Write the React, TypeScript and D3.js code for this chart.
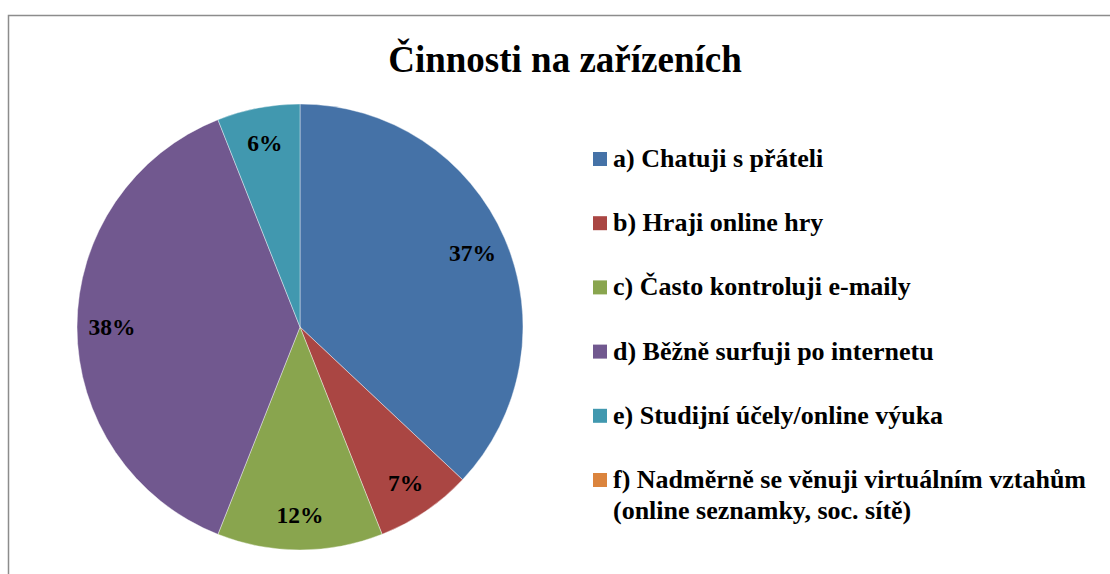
import * as d3 from 'd3';

const categories = [
  'a) Chatuji s přáteli',
  'b) Hraji online hry',
  'c) Často kontroluji e-maily',
  'd) Běžně surfuji po internetu',
  'e) Studijní účely/online výuka',
  'f) Nadměrně se věnuji virtuálním vztahům|(online seznamky, soc. sítě)',
];
const values = [37, 7, 12, 38, 6, 0];
const colors = ['#4572A7', '#AA4643', '#89A54E', '#71588F', '#4198AF', '#DB843D'];
const title = 'Činnosti na zařízeních';

const FONT = 'Liberation Serif';

type Datum = { v: number; i: number };

export default function App() {
  const width = 1110;
  const height = 574;
  const cx = 300;
  const cy = 327;
  const radius = 223;

  const data: Datum[] = values.map((v, i) => ({ v, i }));
  const arcs = d3.pie<Datum>().sort(null).value((d) => d.v)(data).filter((a) => a.data.v > 0);
  const arc = d3.arc<d3.PieArcDatum<Datum>>().innerRadius(0).outerRadius(radius);
  const labelArc = d3.arc<d3.PieArcDatum<Datum>>().innerRadius(188).outerRadius(188);

  const yScale = d3.scaleLinear().domain([0, categories.length - 1]).range([159, 480]);

  return (
    <svg
      width={width}
      height={height}
      fontFamily={FONT}
      fontWeight="bold"
      style={{ position: 'absolute', left: 0, top: 0, display: 'block', background: '#fff' }}
    >
      <rect x={8.5} y={15.5} width={width + 20} height={height + 20} fill="#fff" stroke="#8c8c8c" strokeWidth={1.5} />
      <text x={565} y={72} textAnchor="middle" fontFamily={FONT} fontWeight="bold" fontSize={37} fill="#000">
        {title}
      </text>
      <g transform={`translate(${cx},${cy})`}>
        {arcs.map((a) => (
          <path key={a.data.i} d={arc(a) || ''} fill={colors[a.data.i]} stroke="rgba(255,255,255,0.5)" strokeWidth={0.8} />
        ))}
        {arcs.map((a) => {
          const [x, y] = labelArc.centroid(a);
          return (
            <text key={a.data.i} x={x} y={y} dy="0.35em" textAnchor="middle" fontFamily={FONT} fontWeight="bold" fontSize={23.5} fill="#000">
              {`${a.data.v}%`}
            </text>
          );
        })}
      </g>
      <g>
        {categories.map((c, i) => (
          <g key={i} transform={`translate(593,${yScale(i)})`}>
            <rect x={0} y={-7} width={14} height={14} fill={colors[i]} />
            <text fontFamily={FONT} fontWeight="bold" fontSize={26} fill="#000">
              {c.split('|').map((line, j) => (
                <tspan key={j} x={20} y={8 + j * 31}>
                  {line}
                </tspan>
              ))}
            </text>
          </g>
        ))}
      </g>
    </svg>
  );
}
